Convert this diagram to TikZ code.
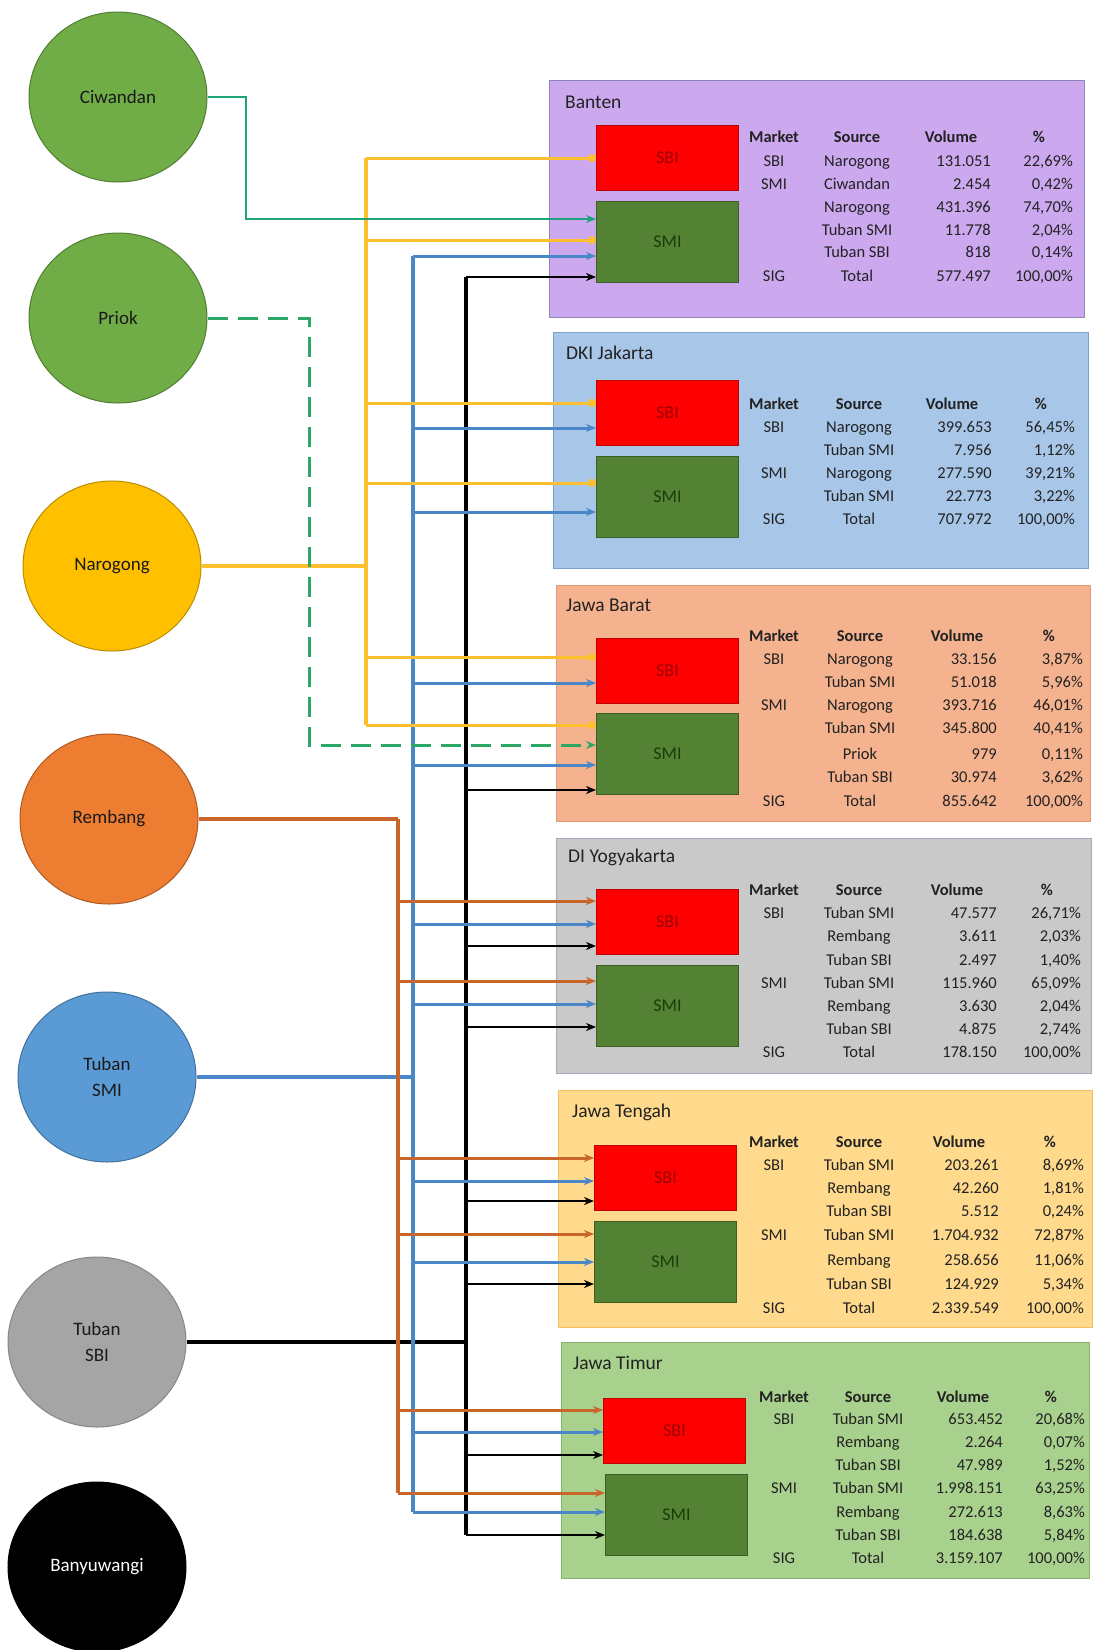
\documentclass[tikz,border=0pt]{standalone}
\usepackage{fontspec}
\setmainfont{Carlito}
\usetikzlibrary{arrows.meta,shapes.geometric}
\definecolor{txt}{HTML}{222222}
\definecolor{srctxt}{HTML}{1A1A1A}
\definecolor{cgreen}{HTML}{70AD47}\definecolor{cgreenE}{HTML}{507E32}
\definecolor{cyel}{HTML}{FFC000}\definecolor{cyelE}{HTML}{BC8C00}
\definecolor{corange}{HTML}{ED7D31}\definecolor{corangeE}{HTML}{AE5A21}
\definecolor{cblue}{HTML}{5B9BD5}\definecolor{cblueE}{HTML}{41719C}
\definecolor{cgray}{HTML}{A5A5A5}\definecolor{cgrayE}{HTML}{878787}
\definecolor{rBan}{HTML}{CCA9EF}\definecolor{rBanE}{HTML}{8E86B8}
\definecolor{rDki}{HTML}{A8C6E8}\definecolor{rDkiE}{HTML}{7F9FC8}
\definecolor{rJbr}{HTML}{F5B28E}\definecolor{rJbrE}{HTML}{E39A78}
\definecolor{rDiy}{HTML}{C9C9C9}\definecolor{rDiyE}{HTML}{A8A8B8}
\definecolor{rJtg}{HTML}{FFD98C}\definecolor{rJtgE}{HTML}{F2BF5A}
\definecolor{rJtm}{HTML}{A9D18E}\definecolor{rJtmE}{HTML}{86B56A}
\definecolor{sbired}{HTML}{FF0000}\definecolor{sbiedge}{HTML}{C00000}\definecolor{sbitxt}{HTML}{9B0000}
\definecolor{smigreen}{HTML}{548235}\definecolor{smiedge}{HTML}{3B5E24}\definecolor{smitxt}{HTML}{1A3D0A}
\definecolor{lCiw}{HTML}{1FA37A}
\definecolor{lPri}{HTML}{2BA866}
\definecolor{lYel}{HTML}{FDBF2D}
\definecolor{lBrn}{HTML}{C8652A}
\definecolor{lBlu}{HTML}{4A87C8}
\definecolor{lBlk}{HTML}{000000}

\newcommand{\colset}[4]{\def\cM{#1}\def\cS{#2}\def\cV{#3}\def\cP{#4}}
\newcommand{\thead}[2]{%
  \node[th] (#1hm) at (\cM,#2) {Market};
  \node[th] (#1hs) at (\cS,#2) {Source};
  \node[th] (#1hv) at (\cV-40,#2) {Volume};
  \node[th] (#1hp) at (\cP-34,#2) {\%};}
\newcommand{\trow}[6]{%
  \node[tc] (#1m) at (\cM,#2) {#3};
  \node[tc] (#1s) at (\cS,#2) {#4};
  \node[tv] (#1v) at (\cV,#2) {#5};
  \node[tv] (#1p) at (\cP,#2) {#6};}
\newcommand{\trowb}[5]{%
  \node[tc] (#1s) at (\cS,#2) {#3};
  \node[tv] (#1v) at (\cV,#2) {#4};
  \node[tv] (#1p) at (\cP,#2) {#5};}
\newcommand{\feed}[4]{\draw[#1] (#2 |- 0,#4) -- (#3.west |- 0,#4);}

\begin{document}
\begin{tikzpicture}[x=1pt,y=-1pt,
  src/.style={ellipse, minimum width=178pt, minimum height=170pt, inner sep=0pt, align=center, font=\fontsize{19}{26}\selectfont, text=srctxt, line width=1pt},
  region/.style={rectangle, anchor=north west, inner sep=0pt, line width=1pt},
  rtitle/.style={anchor=west, inner sep=0pt, font=\fontsize{19.5}{22}\selectfont, text=txt},
  sbibox/.style={rectangle, anchor=north west, minimum width=142pt, minimum height=65pt, fill=sbired, draw=sbiedge, line width=1pt, text=sbitxt, font=\fontsize{18}{20}\selectfont, inner sep=0pt},
  smibox/.style={sbibox, minimum height=81pt, fill=smigreen, draw=smiedge, text=smitxt},
  tc/.style={inner sep=0pt, text height=12pt, text depth=3pt, font=\fontsize{16.5}{18}\selectfont, text=txt},
  th/.style={tc, font=\fontsize{16.5}{18}\selectfont\bfseries},
  tv/.style={tc, anchor=east},
  tip/.style={-{Stealth[length=10pt,width=8pt]}},
  dottip/.style={-{Circle[length=8pt]}},
  ciwl/.style={lCiw, line width=2.8pt},
  pril/.style={lPri, line width=3pt, dash pattern=on 20pt off 10pt},
  yelm/.style={lYel, line width=4.4pt},
  yelt/.style={lYel, line width=3.2pt},
  yelb/.style={lYel, line width=3pt, dottip},
  brnm/.style={lBrn, line width=4.4pt},
  brnt/.style={lBrn, line width=3.4pt},
  brnb/.style={lBrn, line width=3pt, tip},
  blum/.style={lBlu, line width=4.4pt},
  blut/.style={lBlu, line width=3.4pt},
  blub/.style={lBlu, line width=3pt, tip},
  blkm/.style={lBlk, line width=4.6pt},
  blkt/.style={lBlk, line width=3.4pt},
  blkb/.style={lBlk, line width=2.8pt, tip}
]
\useasboundingbox[fill=white] (0,0) rectangle (1094,1650);

% ---------- sources ----------
\node[src, fill=cgreen, draw=cgreenE] (ciw) at (118,97) {Ciwandan};
\node[src, fill=cgreen, draw=cgreenE] (pri) at (118,318) {Priok};
\node[src, fill=cyel, draw=cyelE] (nar) at (112,566) {Narogong};
\node[src, fill=corange, draw=corangeE] (rem) at (109,819) {Rembang};
\node[src, fill=cblue, draw=cblueE] (tsm) at (107,1077) {Tuban\\SMI};
\node[src, fill=cgray, draw=cgrayE] (tsb) at (97,1342) {Tuban\\SBI};
\node[src, fill=black, draw=black, text=white] (byw) at (97,1567) {Banyuwangi};

% ---------- regions ----------
\node[region, fill=rBan, draw=rBanE, minimum width=535pt, minimum height=237pt] (ban) at (549,80) {};
\node[region, fill=rDki, draw=rDkiE, minimum width=535pt, minimum height=236pt] (dki) at (553,332) {};
\node[region, fill=rJbr, draw=rJbrE, minimum width=534pt, minimum height=236pt] (jbr) at (556,585) {};
\node[region, fill=rDiy, draw=rDiyE, minimum width=535pt, minimum height=235pt] (diy) at (556,838) {};
\node[region, fill=rJtg, draw=rJtgE, minimum width=534pt, minimum height=237pt] (jtg) at (558,1090) {};
\node[region, fill=rJtm, draw=rJtmE, minimum width=528pt, minimum height=236pt] (jtm) at (561,1342) {};

\node[rtitle] (banT) at (565,102) {Banten};
\node[rtitle] (dkiT) at (566,353) {DKI Jakarta};
\node[rtitle] (jbrT) at (566,605) {Jawa Barat};
\node[rtitle] (diyT) at (568,857) {DI Yogyakarta};
\node[rtitle] (jtgT) at (572,1112) {Jawa Tengah};
\node[rtitle] (jtmT) at (573,1363) {Jawa Timur};

% market boxes
\node[sbibox] (banSBI) at (596,125) {SBI};
\node[smibox] (banSMI) at (596,201) {SMI};
\node[sbibox] (dkiSBI) at (596,380) {SBI};
\node[smibox] (dkiSMI) at (596,456) {SMI};
\node[sbibox] (jbrSBI) at (596,638) {SBI};
\node[smibox] (jbrSMI) at (596,713) {SMI};
\node[sbibox] (diySBI) at (596,889) {SBI};
\node[smibox] (diySMI) at (596,965) {SMI};
\node[sbibox] (jtgSBI) at (594,1145) {SBI};
\node[smibox] (jtgSMI) at (594,1221) {SMI};
\node[sbibox] (jtmSBI) at (603,1398) {SBI};
\node[smibox] (jtmSMI) at (605,1474) {SMI};

% ---------- tables ----------
\colset{774}{857}{991}{1073}
\thead{ban}{138}
\trow{ban1}{162}{SBI}{Narogong}{131.051}{22,69\%}
\trow{ban2}{185}{SMI}{Ciwandan}{2.454}{0,42\%}
\trowb{ban3}{208}{Narogong}{431.396}{74,70\%}
\trowb{ban4}{231}{Tuban SMI}{11.778}{2,04\%}
\trowb{ban5}{253}{Tuban SBI}{818}{0,14\%}
\trow{ban6}{277}{SIG}{Total}{577.497}{100,00\%}

\colset{774}{859}{992}{1075}
\thead{dki}{405}
\trow{dki1}{428}{SBI}{Narogong}{399.653}{56,45\%}
\trowb{dki2}{451}{Tuban SMI}{7.956}{1,12\%}
\trow{dki3}{474}{SMI}{Narogong}{277.590}{39,21\%}
\trowb{dki4}{497}{Tuban SMI}{22.773}{3,22\%}
\trow{dki5}{520}{SIG}{Total}{707.972}{100,00\%}

\colset{774}{860}{997}{1083}
\thead{jbr}{637}
\trow{jbr1}{660}{SBI}{Narogong}{33.156}{3,87\%}
\trowb{jbr2}{683}{Tuban SMI}{51.018}{5,96\%}
\trow{jbr3}{706}{SMI}{Narogong}{393.716}{46,01\%}
\trowb{jbr4}{729}{Tuban SMI}{345.800}{40,41\%}
\trowb{jbr5}{755}{Priok}{979}{0,11\%}
\trowb{jbr6}{778}{Tuban SBI}{30.974}{3,62\%}
\trow{jbr7}{802}{SIG}{Total}{855.642}{100,00\%}

\colset{774}{859}{997}{1081}
\thead{diy}{891}
\trow{diy1}{914}{SBI}{Tuban SMI}{47.577}{26,71\%}
\trowb{diy2}{937}{Rembang}{3.611}{2,03\%}
\trowb{diy3}{961}{Tuban SBI}{2.497}{1,40\%}
\trow{diy4}{984}{SMI}{Tuban SMI}{115.960}{65,09\%}
\trowb{diy5}{1007}{Rembang}{3.630}{2,04\%}
\trowb{diy6}{1030}{Tuban SBI}{4.875}{2,74\%}
\trow{diy7}{1053}{SIG}{Total}{178.150}{100,00\%}

\colset{774}{859}{999}{1084}
\thead{jtg}{1143}
\trow{jtg1}{1166}{SBI}{Tuban SMI}{203.261}{8,69\%}
\trowb{jtg2}{1189}{Rembang}{42.260}{1,81\%}
\trowb{jtg3}{1212}{Tuban SBI}{5.512}{0,24\%}
\trow{jtg4}{1236}{SMI}{Tuban SMI}{1.704.932}{72,87\%}
\trowb{jtg5}{1261}{Rembang}{258.656}{11,06\%}
\trowb{jtg6}{1285}{Tuban SBI}{124.929}{5,34\%}
\trow{jtg7}{1309}{SIG}{Total}{2.339.549}{100,00\%}

\colset{784}{868}{1003}{1085}
\thead{jtm}{1398}
\trow{jtm1}{1420}{SBI}{Tuban SMI}{653.452}{20,68\%}
\trowb{jtm2}{1443}{Rembang}{2.264}{0,07\%}
\trowb{jtm3}{1466}{Tuban SBI}{47.989}{1,52\%}
\trow{jtm4}{1489}{SMI}{Tuban SMI}{1.998.151}{63,25\%}
\trowb{jtm5}{1513}{Rembang}{272.613}{8,63\%}
\trowb{jtm6}{1536}{Tuban SBI}{184.638}{5,84\%}
\trow{jtm7}{1559}{SIG}{Total}{3.159.107}{100,00\%}

% ---------- trunks ----------
\coordinate (tC) at (246,0);
\coordinate (tP) at (309,0);
\coordinate (tN) at (366,0);
\coordinate (tR) at (398,0);
\coordinate (tB) at (413,0);
\coordinate (tK) at (466,0);

% Tuban SBI (black)
\draw[blkm] (tsb.east) -- (tK |- tsb.east);
\draw[blkt] (tK |- 0,277) -- (tK |- 0,1535);
\feed{blkb}{tK}{banSMI}{277}
\feed{blkb}{tK}{jbrSMI}{790}
\feed{blkb}{tK}{diySBI}{946}
\feed{blkb}{tK}{diySMI}{1027}
\feed{blkb}{tK}{jtgSBI}{1201}
\feed{blkb}{tK}{jtgSMI}{1284}
\feed{blkb}{tK}{jtmSBI}{1455}
\feed{blkb}{tK}{jtmSMI}{1535}

% Tuban SMI (blue)
\draw[blum] (tsm.east) -- (tB |- tsm.east);
\draw[blut] (tB |- 0,256) -- (tB |- 0,1512);
\feed{blub}{tB}{banSMI}{256}
\feed{blub}{tB}{dkiSBI}{428}
\feed{blub}{tB}{dkiSMI}{512}
\feed{blub}{tB}{jbrSBI}{683}
\feed{blub}{tB}{jbrSMI}{765}
\feed{blub}{tB}{diySBI}{924}
\feed{blub}{tB}{diySMI}{1004}
\feed{blub}{tB}{jtgSBI}{1181}
\feed{blub}{tB}{jtgSMI}{1262}
\feed{blub}{tB}{jtmSBI}{1432}
\feed{blub}{tB}{jtmSMI}{1512}

% Rembang (brown)
\draw[brnm] (rem.east) -- (tR |- rem.east);
\draw[brnt] (tR |- rem.east) -- (tR |- 0,1493);
\feed{brnb}{tR}{diySBI}{901}
\feed{brnb}{tR}{diySMI}{981}
\feed{brnb}{tR}{jtgSBI}{1158}
\feed{brnb}{tR}{jtgSMI}{1234}
\feed{brnb}{tR}{jtmSBI}{1410}
\feed{brnb}{tR}{jtmSMI}{1493}

% Narogong (yellow)
\draw[yelm] (nar.east) -- (tN |- nar.east);
\draw[yelt] (tN |- 0,158) -- (tN |- 0,725);
\feed{yelb}{tN}{banSBI}{158}
\feed{yelb}{tN}{banSMI}{240}
\feed{yelb}{tN}{dkiSBI}{403}
\feed{yelb}{tN}{dkiSMI}{483}
\feed{yelb}{tN}{jbrSBI}{657}
\feed{yelb}{tN}{jbrSMI}{725}

% Ciwandan and Priok (green)
\draw[ciwl, tip] (ciw.east) -| (tC |- 0,219) -- (banSMI.west |- 0,219);
\draw[pril, tip] (pri.east) -| (tP |- 0,745) -- (jbrSMI.west |- 0,745);

\end{tikzpicture}
\end{document}
